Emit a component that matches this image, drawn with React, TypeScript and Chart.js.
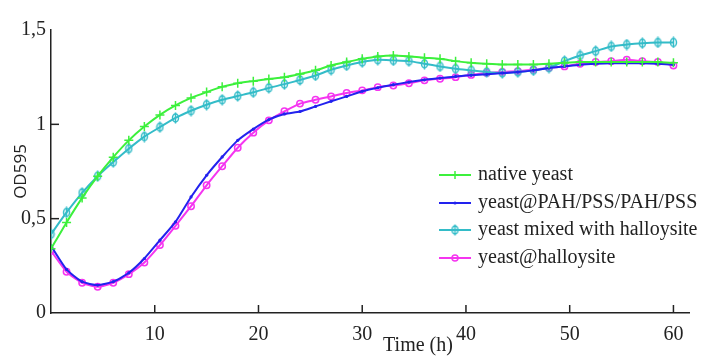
import { useEffect, useRef } from "react";
import { Chart, registerables } from "chart.js";

Chart.register(...registerables);

const times = [
  0, 1.5, 3, 4.5, 6, 7.5, 9, 10.5, 12, 13.5, 15, 16.5, 18, 19.5, 21, 22.5, 24, 25.5, 27, 28.5,
  30, 31.5, 33, 34.5, 36, 37.5, 39, 40.5, 42, 43.5, 45, 46.5, 48, 49.5, 51, 52.5, 54, 55.5, 57, 58.5, 60,
];

const nativeYeast = [
  0.34, 0.48, 0.61, 0.725, 0.826, 0.915, 0.988, 1.05, 1.1, 1.14, 1.171, 1.199, 1.218, 1.229, 1.24, 1.25,
  1.267, 1.286, 1.312, 1.33, 1.347, 1.36, 1.365, 1.36, 1.353, 1.347, 1.335, 1.326, 1.321, 1.317, 1.317,
  1.317, 1.321, 1.326, 1.33, 1.33, 1.33, 1.33, 1.33, 1.33, 1.326,
];

const yeastPAH = [
  0.356, 0.231, 0.166, 0.148, 0.166, 0.213, 0.289, 0.386, 0.483, 0.615, 0.73, 0.827, 0.915, 0.975, 1.025,
  1.055, 1.068, 1.095, 1.122, 1.148, 1.175, 1.194, 1.21, 1.224, 1.236, 1.245, 1.254, 1.26, 1.265, 1.272,
  1.277, 1.286, 1.298, 1.307, 1.316, 1.321, 1.324, 1.324, 1.324, 1.321, 1.316,
];

const yeastMixed = [
  0.418, 0.533, 0.637, 0.725, 0.8, 0.871, 0.935, 0.985, 1.034, 1.072, 1.104, 1.13, 1.15, 1.17, 1.193,
  1.213, 1.235, 1.259, 1.289, 1.312, 1.33, 1.342, 1.339, 1.335, 1.321, 1.307, 1.295, 1.286, 1.277, 1.272,
  1.277, 1.286, 1.3, 1.335, 1.365, 1.388, 1.413, 1.423, 1.43, 1.434, 1.434,
];

const yeastHalloysite = [
  0.33, 0.219, 0.16, 0.139, 0.16, 0.206, 0.268, 0.36, 0.462, 0.566, 0.677, 0.778, 0.876, 0.956, 1.021,
  1.069, 1.11, 1.13, 1.148, 1.166, 1.18, 1.197, 1.206, 1.218, 1.233, 1.242, 1.25, 1.262, 1.272, 1.277,
  1.282, 1.289, 1.3, 1.307, 1.321, 1.33, 1.335, 1.342, 1.335, 1.33, 1.312,
];

const seriesLabels = [
  "native yeast",
  "yeast@PAH/PSS/PAH/PSS",
  "yeast mixed with halloysite",
  "yeast@halloysite",
];
const xTickValues = [10, 20, 30, 40, 50, 60];
const yTickValues = [0, 0.5, 1, 1.5];
const yTickLabels = ["0", "0,5", "1", "1,5"];

const GREEN = "#3cf03c";
const BLUE = "#2222ee";
const CYAN = "#33bcc8";
const MAGENTA = "#f535f0";
const AXIS = "#222222";
const SERIF = '"Liberation Serif", "Times New Roman", serif';

function makeCyanMarker(): HTMLCanvasElement {
  const c = document.createElement("canvas");
  c.width = 9;
  c.height = 12;
  const g = c.getContext("2d")!;
  g.strokeStyle = CYAN;
  g.lineWidth = 1.5;
  g.beginPath();
  g.ellipse(4.5, 6, 3, 4, 0, 0, Math.PI * 2);
  g.stroke();
  g.beginPath();
  g.moveTo(4.5, 0.5);
  g.lineTo(4.5, 11.5);
  g.stroke();
  return c;
}

const toPoints = (vals: number[]) => vals.map((v, i) => ({ x: times[i], y: v }));

export default function App() {
  const canvasRef = useRef<HTMLCanvasElement | null>(null);

  useEffect(() => {
    document.body.style.margin = "0";
    const canvas = canvasRef.current;
    if (!canvas) return;
    const cyanMarker = makeCyanMarker();

    const decor = {
      id: "decor",
      afterDraw(chart: any) {
        const { ctx } = chart;
        const x = chart.scales.x;
        const y = chart.scales.y;
        ctx.save();
        ctx.strokeStyle = AXIS;
        ctx.lineWidth = 1.5;
        xTickValues.forEach((v) => {
          const px = x.getPixelForValue(v);
          ctx.beginPath();
          ctx.moveTo(px, y.bottom);
          ctx.lineTo(px, y.bottom - 8);
          ctx.stroke();
        });
        [0.5, 1].forEach((v) => {
          const py = y.getPixelForValue(v);
          ctx.beginPath();
          ctx.moveTo(x.left, py);
          ctx.lineTo(x.left + 8, py);
          ctx.stroke();
        });
        // x axis title
        ctx.font = `20px ${SERIF}`;
        ctx.fillStyle = AXIS;
        ctx.textAlign = "center";
        ctx.textBaseline = "middle";
        ctx.fillText("Time (h)", 418, 346);

        // legend
        const colors = [GREEN, BLUE, CYAN, MAGENTA];
        const rows = [175, 203, 230, 258];
        const x0 = 439;
        const x1 = 471;
        const xm = (x0 + x1) / 2;
        seriesLabels.forEach((lab, i) => {
          const ry = rows[i];
          ctx.strokeStyle = colors[i];
          ctx.lineWidth = 2;
          ctx.beginPath();
          ctx.moveTo(x0, ry);
          ctx.lineTo(x1, ry);
          ctx.stroke();
          ctx.lineWidth = 1.5;
          if (i === 0) {
            ctx.beginPath();
            ctx.moveTo(xm, ry - 4);
            ctx.lineTo(xm, ry + 4);
            ctx.stroke();
          } else if (i === 1) {
            ctx.fillStyle = BLUE;
            ctx.beginPath();
            ctx.arc(xm, ry, 1.6, 0, Math.PI * 2);
            ctx.fill();
          } else if (i === 2) {
            ctx.drawImage(cyanMarker, xm - 4.5, ry - 6);
          } else {
            ctx.beginPath();
            ctx.arc(xm, ry, 3, 0, Math.PI * 2);
            ctx.stroke();
          }
          ctx.fillStyle = AXIS;
          ctx.textAlign = "left";
          ctx.textBaseline = "middle";
          ctx.font = `20px ${SERIF}`;
          ctx.fillText(lab, 478, ry);
        });
        ctx.restore();
      },
    };

    const chart = new Chart(canvas, {
      type: "line",
      data: {
        datasets: [
          {
            label: seriesLabels[0],
            data: toPoints(nativeYeast),
            borderColor: GREEN,
            backgroundColor: GREEN,
            borderWidth: 2,
            pointStyle: "cross",
            pointRadius: 4.5,
            pointBorderWidth: 1.5,
            tension: 0.2,
          },
          {
            label: seriesLabels[1],
            data: toPoints(yeastPAH),
            borderColor: BLUE,
            backgroundColor: BLUE,
            borderWidth: 2,
            pointStyle: "circle",
            pointRadius: 1.6,
            pointBorderWidth: 0,
            tension: 0.2,
          },
          {
            label: seriesLabels[2],
            data: toPoints(yeastMixed),
            borderColor: CYAN,
            backgroundColor: CYAN,
            borderWidth: 2,
            pointStyle: cyanMarker,
            pointRadius: 4,
            tension: 0.2,
          },
          {
            label: seriesLabels[3],
            data: toPoints(yeastHalloysite),
            borderColor: MAGENTA,
            backgroundColor: "rgba(0,0,0,0)",
            borderWidth: 2,
            pointStyle: "circle",
            pointRadius: 3.2,
            pointBorderWidth: 1.5,
            tension: 0.2,
          },
        ],
      },
      options: {
        animation: false,
        responsive: false,
        maintainAspectRatio: false,
        layout: { padding: { left: 11, top: 30, right: 14, bottom: 0 } },
        plugins: { legend: { display: false }, tooltip: { enabled: false } },
        scales: {
          x: {
            type: "linear",
            min: 0,
            max: 61.5,
            afterFit: (s: any) => {
              s.height = 43;
            },
            afterBuildTicks: (s: any) => {
              s.ticks = xTickValues.map((v) => ({ value: v }));
            },
            grid: { display: false, drawTicks: false },
            border: { display: true, color: AXIS, width: 1.5 },
            ticks: {
              padding: 10,
              color: AXIS,
              font: { family: SERIF, size: 20 },
              maxRotation: 0,
              autoSkip: false,
              callback: (v: any) => String(v),
            },
          },
          y: {
            min: 0,
            max: 1.5,
            afterFit: (s: any) => {
              s.width = 40;
            },
            afterBuildTicks: (s: any) => {
              s.ticks = yTickValues.map((v) => ({ value: v }));
            },
            grid: { display: false, drawTicks: false },
            border: { display: true, color: AXIS, width: 1.5 },
            title: {
              display: true,
              text: "OD595",
              color: AXIS,
              font: { family: '"Open Sans", "Liberation Sans", Arial, sans-serif', size: 17 },
              padding: { top: 0, bottom: 0 },
            },
            ticks: {
              padding: 5,
              color: AXIS,
              font: { family: SERIF, size: 20 },
              autoSkip: false,
              callback: (v: any) => {
                const idx = yTickValues.indexOf(Number(v));
                return idx >= 0 ? yTickLabels[idx] : "";
              },
            },
          },
        },
      },
      plugins: [decor],
    });

    return () => chart.destroy();
  }, []);

  return (
    <div style={{ width: 703, height: 356, background: "#fff" }}>
      <canvas ref={canvasRef} width={703} height={356} style={{ display: "block" }} />
    </div>
  );
}
